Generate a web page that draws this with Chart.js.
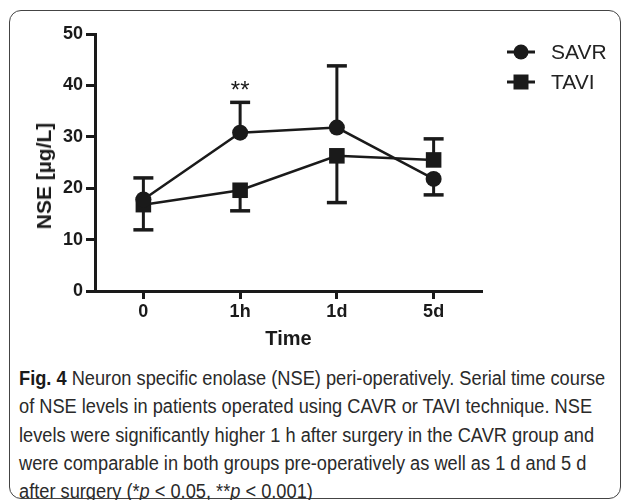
<!DOCTYPE html>
<html>
<head>
<meta charset="utf-8">
<script src="https://cdn.jsdelivr.net/npm/chart.js@4.4.0/dist/chart.umd.min.js"></script>
<style>
  body { margin: 0; width: 627px; height: 500px; overflow: hidden; background: #fff; position: relative; font-family: "Liberation Sans", Arial, sans-serif; }
  #frame { position: absolute; left: 9px; top: 10px; width: 612px; height: 489px; border: 1.5px solid #444; border-radius: 12px; box-sizing: border-box; }
  #wrap { position: absolute; left: 0; top: 0; width: 627px; height: 360px; }
  #ytitle { position: absolute; left: 44px; top: 176px; transform: translate(-50%, -50%) rotate(-90deg); font-weight: bold; font-size: 21px; color: #1a1a1a; white-space: nowrap; }
  #caption { position: absolute; left: 19px; top: 364px; font-family: "Liberation Sans", Arial, sans-serif; font-size: 20px; line-height: 28.3px; color: #2a2a2a; white-space: nowrap; transform-origin: 0 0; }
  #caption b { color: #1a1a1a; }
</style>
</head>
<body>
<div id="frame"></div>
<div id="wrap"><canvas id="chart"></canvas></div>
<div id="ytitle">NSE [µg/L]</div>
<div id="caption"><b>Fig. 4</b> Neuron specific enolase (NSE) peri-operatively. Serial time course<br>of NSE levels in patients operated using CAVR or TAVI technique. NSE<br>levels were significantly higher 1 h after surgery in the CAVR group and<br>were comparable in both groups pre-operatively as well as 1 d and 5 d<br>after surgery (*<i>p</i> &lt; 0.05, **<i>p</i> &lt; 0.001)</div>
<script>
const categories = ['0', '1h', '1d', '5d'];
const savrMean = [17.8, 30.8, 31.8, 21.8];
const taviMean = [16.8, 19.6, 26.3, 25.5];
// end of the one-sided error bar for each point
const savrBarEnd = [22.0, 36.7, 43.8, 18.7];
const taviBarEnd = [11.9, 15.6, 17.2, 29.6];
const savrSig = ['', '**', '', ''];
const yTicks = [0, 10, 20, 30, 40, 50];

const INK = '#1a1a1a';

// squeeze the caption to the narrow width of the original typeface
const caption = document.getElementById('caption');
caption.style.transform = `scaleX(${586 / caption.scrollWidth})`;

const errorBars = {
    id: 'errorBars',
    beforeDatasetsDraw(chart) {
        const { ctx, scales: { x, y } } = chart;
        ctx.save();
        ctx.strokeStyle = INK;
        [[savrMean, savrBarEnd], [taviMean, taviBarEnd]].forEach(([mean, end]) => {
            categories.forEach((c, i) => {
                const px = x.getPixelForValue(i);
                const y0 = y.getPixelForValue(mean[i]);
                const y1 = y.getPixelForValue(end[i]);
                ctx.lineWidth = 3;
                ctx.beginPath();
                ctx.moveTo(px, y0);
                ctx.lineTo(px, y1);
                ctx.stroke();
                ctx.lineWidth = 3.5;
                ctx.beginPath();
                ctx.moveTo(px - 10, y1);
                ctx.lineTo(px + 10, y1);
                ctx.stroke();
            });
        });
        // significance stars above the SAVR bars
        ctx.fillStyle = INK;
        ctx.font = '24px "Liberation Sans", Arial, sans-serif';
        ctx.textAlign = 'center';
        ctx.textBaseline = 'middle';
        savrSig.forEach((s, i) => {
            if (!s) return;
            ctx.fillText(s, x.getPixelForValue(i), y.getPixelForValue(savrBarEnd[i]) - 11);
        });
        ctx.restore();
    }
};

const legendBox = {
    id: 'legendBox',
    afterDraw(chart) {
        const { ctx } = chart;
        ctx.save();
        chart.data.datasets.forEach((ds, i) => {
            const cy = 52 + i * 30;
            ctx.strokeStyle = INK;
            ctx.lineWidth = 3;
            ctx.beginPath();
            ctx.moveTo(507, cy);
            ctx.lineTo(535, cy);
            ctx.stroke();
            ctx.fillStyle = INK;
            ctx.beginPath();
            if (ds.pointStyle === 'rect') {
                ctx.rect(521 - 7.5, cy - 7.5, 15, 15);
            } else {
                ctx.arc(521, cy, 7.5, 0, Math.PI * 2);
            }
            ctx.fill();
            ctx.fillStyle = '#222';
            ctx.font = '21px "Liberation Sans", Arial, sans-serif';
            ctx.textAlign = 'left';
            ctx.textBaseline = 'middle';
            ctx.fillText(ds.label, 551, cy + 1);
        });
        ctx.restore();
    }
};

new Chart(document.getElementById('chart'), {
    type: 'line',
    data: {
        labels: categories,
        datasets: [
            {
                label: 'SAVR',
                data: savrMean,
                borderColor: INK,
                borderWidth: 2.5,
                pointStyle: 'circle',
                pointRadius: 8,
                pointBackgroundColor: INK,
                pointBorderWidth: 0,
                tension: 0
            },
            {
                label: 'TAVI',
                data: taviMean,
                borderColor: INK,
                borderWidth: 2.5,
                pointStyle: 'rect',
                pointRadius: 11,
                pointBackgroundColor: INK,
                pointBorderWidth: 0,
                tension: 0
            }
        ]
    },
    options: {
        responsive: true,
        maintainAspectRatio: false,
        animation: false,
        layout: { padding: { left: 55, right: 145, top: 34, bottom: 9 } },
        plugins: {
            legend: { display: false },
            tooltip: { enabled: false }
        },
        scales: {
            x: {
                offset: true,
                afterFit: s => { s.height = 60; },
                border: { display: true, width: 3, color: INK },
                grid: { drawOnChartArea: false, drawTicks: true, tickLength: 8, tickWidth: 3, tickColor: INK, color: INK },
                ticks: { color: INK, padding: 2, font: { family: '"Liberation Sans", Arial', size: 18, weight: 'bold' } },
                title: { display: true, text: 'Time', color: INK, padding: 0, font: { family: '"Liberation Sans", Arial', size: 20, weight: 'bold' } }
            },
            y: {
                min: 0,
                max: 50,
                afterFit: s => { s.width = 40; },
                afterBuildTicks: s => { s.ticks = yTicks.map(v => ({ value: v })); },
                border: { display: true, width: 3, color: INK },
                grid: { drawOnChartArea: false, drawTicks: true, tickLength: 9, tickWidth: 3, tickColor: INK, color: INK },
                ticks: { color: INK, padding: 3, font: { family: '"Liberation Sans", Arial', size: 18, weight: 'bold' } }
            }
        }
    },
    plugins: [errorBars, legendBox]
});
</script>
</body>
</html>
